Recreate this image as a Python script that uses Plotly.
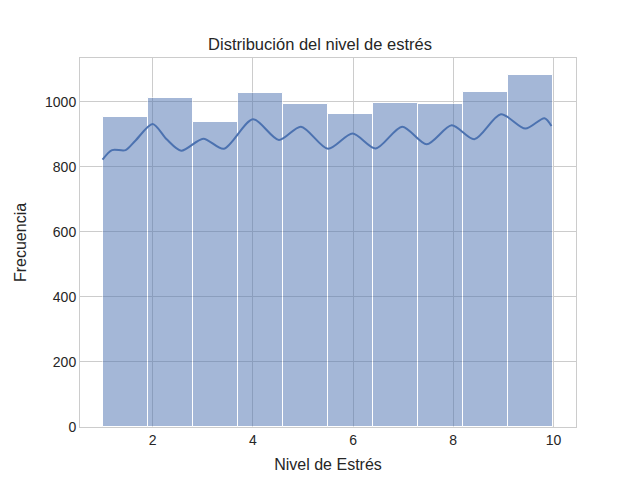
import numpy as np
import plotly.graph_objects as go

# === Data ===
bin_edges = [1.0, 1.9, 2.8, 3.7, 4.6, 5.5, 6.4, 7.3, 8.2, 9.1, 10.0]
counts = [952, 1010, 936, 1026, 992, 961, 995, 992, 1029, 1082]

kde_x = [1.0, 1.19, 1.46, 1.65, 2.0, 2.28, 2.57, 3.01, 3.42, 4.0, 4.52,
         4.96, 5.5, 5.99, 6.45, 6.98, 7.47, 7.97, 8.42, 8.95, 9.44, 9.82, 9.96]
kde_y = [822, 851, 851, 879, 931, 884, 849, 886, 855, 946, 882,
         923, 855, 902, 856, 923, 869, 927, 884, 961, 917, 949, 925]

x_ticks = [2, 4, 6, 8, 10]
y_ticks = [0, 200, 400, 600, 800, 1000]

# --- Style ---
blue = "#4C72B0"
grid = "#cccccc"
font = "Liberation Sans, Arial, sans-serif"

edges = np.array(bin_edges)
centers = (edges[:-1] + edges[1:]) / 2
widths = np.diff(edges)

fig = go.Figure()
fig.add_trace(go.Bar(
    x=centers, y=counts, width=widths,
    marker=dict(color=blue, line=dict(color="white", width=1)),
    opacity=0.5,
    hoverinfo="skip",
))
fig.add_trace(go.Scatter(
    x=kde_x, y=kde_y, mode="lines",
    line=dict(color=blue, width=2, shape="spline", smoothing=0.8),
    hoverinfo="skip",
))

axis_common = dict(
    showgrid=True, gridcolor=grid, gridwidth=1,
    showline=True, linecolor=grid, linewidth=1, mirror=True,
    zeroline=False, ticks="", automargin=False,
    tickfont=dict(size=14, color="#262626"),
)

fig.update_layout(
    width=640, height=480,
    margin=dict(l=80, r=64, t=58, b=53),
    paper_bgcolor="white", plot_bgcolor="white",
    showlegend=False, bargap=0,
    font=dict(family=font, color="#262626"),
    title=dict(text="Distribución del nivel de estrés", x=0.5, xanchor="center",
               y=1 - 44 / 480, yanchor="middle", font=dict(size=16.5)),
    xaxis=dict(axis_common, range=[0.55, 10.45], tickvals=x_ticks,
               title=dict(text="Nivel de Estrés", font=dict(size=16), standoff=12)),
    yaxis=dict(axis_common, range=[0, 1134], tickvals=y_ticks,
               title=dict(text="Frecuencia", font=dict(size=16), standoff=14)),
)

# page body has a default 8px margin, drop it so the figure sits at 0,0
fig.write_html("out.html", config={"displayModeBar": False},
               post_script="document.body.style.margin='0';")
